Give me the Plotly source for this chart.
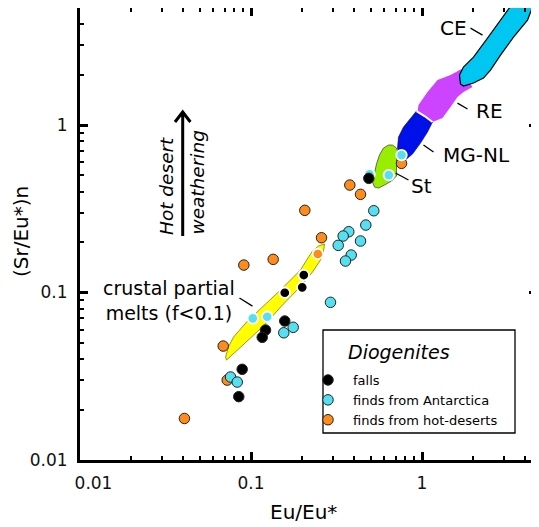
import plotly.graph_objects as go

# ---------------- data (Eu/Eu*, (Sr/Eu*)n) ----------------
falls_x = [0.2036, 0.1993, 0.1576, 0.1576, 0.1216, 0.1163, 0.0888, 0.0848, 0.4886]
falls_y = [0.1272, 0.1074, 0.0997, 0.0676, 0.0597, 0.0540, 0.0348, 0.0239, 0.4806]

antarctica_x = [0.1024, 0.1244, 0.2916, 0.1765, 0.1555, 0.0759, 0.0831, 0.5225, 0.4692,
                0.3731, 0.3460, 0.4369, 0.3236, 0.3855, 0.3569, 0.4932, 0.6395, 0.7590]
antarctica_y = [0.0701, 0.0717, 0.0874, 0.0620, 0.0575, 0.0313, 0.0292, 0.3079, 0.2529,
                0.2307, 0.2175, 0.2030, 0.1913, 0.1674, 0.1542, 0.5077, 0.5029, 0.6621]

hotdesert_x = [0.0908, 0.1348, 0.2459, 0.2584, 0.0688, 0.0726, 0.0408, 0.3783, 0.4369, 0.2064, 0.7590]
hotdesert_y = [0.1459, 0.1578, 0.1698, 0.2124, 0.0479, 0.0300, 0.0177, 0.4383, 0.3857, 0.3096, 0.5906]

# samples lying on a shaded field (drawn with a white rim)
falls_on_field = [0, 1, 2]
antarctica_on_field = [0, 1, 15, 16, 17]
hotdesert_on_field = [2]

# fields (polygon outlines)
crustal_x = [0.0710, 0.0738, 0.0790, 0.0954, 0.1488, 0.1948, 0.2169, 0.2289, 0.2481, 0.2691,
             0.2655, 0.2549, 0.2289, 0.1948, 0.1488, 0.1249, 0.0993, 0.0834, 0.0759, 0.0719]
crustal_y = [0.0412, 0.0473, 0.0542, 0.0676, 0.1035, 0.1363, 0.1629, 0.1769, 0.1895, 0.1948,
             0.1769, 0.1563, 0.1326, 0.1086, 0.0819, 0.0667, 0.0535, 0.0454, 0.0412, 0.0395]

st_x = [0.6368, 0.5954, 0.5641, 0.5418, 0.5275, 0.5134, 0.5275, 0.5565, 0.6034, 0.6631,
        0.7093, 0.7093, 0.7093, 0.7286, 0.7093, 0.6722]
st_y = [0.7597, 0.7290, 0.6622, 0.5851, 0.5171, 0.4568, 0.4264, 0.4205, 0.4383, 0.4630,
        0.4961, 0.5537, 0.6181, 0.6712, 0.7290, 0.7597]

mgnl_x = [0.7190, 0.7286, 0.7796, 0.8566, 0.9286, 1.0342, 1.1518, 1.0769, 0.9800, 0.8799, 0.8117, 0.7484]
mgnl_y = [0.7290, 0.8480, 0.9729, 1.1010, 1.2123, 1.1317, 1.0421, 0.9083, 0.7808, 0.6712, 0.6267, 0.6440]
mgnl_top_edge = [4, 5, 6]

re_x = [0.9412, 0.9540, 1.0769, 1.2320, 1.4678, 1.7022, 1.8206, 1.9738, 1.7483, 1.6126,
        1.4678, 1.3177, 1.1518, 1.0204]
re_y = [1.1958, 1.3162, 1.5740, 1.8565, 1.9885, 2.1600, 1.9080, 1.6861, 1.5740, 1.4696,
        1.2807, 1.1010, 1.0421, 1.1010]

ce_x = [1.6796, 1.6571, 1.7483, 2.0007, 2.4155, 2.8778, 3.2050, 4.2529, 5.4930, 4.4278,
        4.1400, 3.4284, 2.8778, 2.5155, 2.2887, 2.0007, 1.7483]
ce_y = [1.7573, 1.9885, 2.2193, 2.5468, 3.3071, 4.2352, 4.9939, 7.3389, 7.3389, 5.0637,
        4.2352, 3.3529, 2.6175, 2.1298, 1.9080, 1.7816, 1.7092]

# label leader lines (start, end)
leader_ce_x, leader_ce_y = [1.921, 2.259], [3.794, 3.446]
leader_re_x, leader_re_y = [1.6126, 1.845], [1.353, 1.246]
leader_mg_x, leader_mg_y = [1.0204, 1.1674], [0.7597, 0.6898]
leader_st_x, leader_st_y = [0.6998, 0.8338], [0.5171, 0.4695]
leader_cr_x, leader_cr_y = [0.0856, 0.1020], [0.0927, 0.0830]

x_tickvals = [0.01, 0.1, 1]
x_ticktext = ["\u00a0\u00a0\u00a0\u00a0\u00a00.01", "0.1", "1"]
y_tickvals = [0.01, 0.1, 1]
y_ticktext = ["0.01", "0.1", "1"]
minor_vals = [m * d for d in (0.01, 0.1, 1) for m in range(2, 10)]

FONT = "DejaVu Sans"

fig = go.Figure()


def field(xs, ys, fill, line_color, line_width):
    fig.add_trace(go.Scatter(
        x=xs + xs[:1], y=ys + ys[:1], mode="lines", fill="toself", fillcolor=fill,
        line=dict(color=line_color, width=line_width), showlegend=False, hoverinfo="skip"))


field(crustal_x, crustal_y, "#FFFF00", "#6b6b00", 0.7)
field(st_x, st_y, "#99EE00", "#333333", 0.7)
field(re_x, re_y, "#CC44FF", "rgba(0,0,0,0)", 0)
field(mgnl_x, mgnl_y, "#0010E8", "#000055", 0.6)
fig.add_trace(go.Scatter(x=[mgnl_x[i] for i in mgnl_top_edge], y=[mgnl_y[i] for i in mgnl_top_edge],
                         mode="lines", line=dict(color="white", width=2), showlegend=False,
                         hoverinfo="skip"))
field(ce_x, ce_y, "#00C6F2", "#000000", 1.2)

for lx, ly in [(leader_ce_x, leader_ce_y), (leader_re_x, leader_re_y), (leader_mg_x, leader_mg_y),
               (leader_st_x, leader_st_y), (leader_cr_x, leader_cr_y)]:
    fig.add_trace(go.Scatter(x=lx, y=ly, mode="lines", line=dict(color="black", width=1.3),
                             showlegend=False, hoverinfo="skip"))


def samples(xs, ys, on_field, color, name, rank):
    off = [i for i in range(len(xs)) if i not in on_field]
    fig.add_trace(go.Scatter(
        x=[xs[i] for i in off], y=[ys[i] for i in off], mode="markers", name=name,
        legendrank=rank, legendgroup=name,
        marker=dict(size=10.5, color=color, line=dict(color="#222222", width=1))))
    fig.add_trace(go.Scatter(
        x=[xs[i] for i in on_field], y=[ys[i] for i in on_field], mode="markers", name=name,
        legendgroup=name, showlegend=False,
        marker=dict(size=10.5, color=color, line=dict(color="white", width=1.8))))


samples(hotdesert_x, hotdesert_y, hotdesert_on_field, "#FF8C1A", "finds from hot-deserts", 3)
samples(antarctica_x, antarctica_y, antarctica_on_field, "#55E0F2", "finds from Antarctica", 2)
samples(falls_x, falls_y, falls_on_field, "#000000", "falls", 1)

# the page has an 8px body margin; layout below is expressed in page pixels
OFF = 8
W, H = 539 - OFF, 527 - OFF
PL, PR, PT, PB = 80, 537, 8, 460          # plot area in page pixels
L, R, T, B = PL - OFF, W - (PR - OFF), PT - OFF, H - (PB - OFF)
pw, ph = PR - PL, PB - PT


def px(xp):
    return (xp - PL) / pw


def py(yp):
    return (PB - yp) / ph


axis_common = dict(
    type="log", showgrid=False, zeroline=False, showline=True, linecolor="black", linewidth=3,
    mirror="ticks", ticks="inside", ticklen=8, tickwidth=2.5, tickcolor="black",
    tickfont=dict(family=FONT, size=17, color="#111111"),
    minor=dict(tickvals=minor_vals, ticks="inside", ticklen=4, tickwidth=2, tickcolor="black",
               showgrid=False),
)

fig.update_xaxes(**axis_common, range=[-2, 0.6725], tickvals=x_tickvals, ticktext=x_ticktext,
                 ticklabelstandoff=6)
fig.update_yaxes(**axis_common, range=[-2, 0.699], tickvals=y_tickvals, ticktext=y_ticktext,
                 ticklabelstandoff=6)

ann = []


def label(text, xp, yp, size=20, italic=False, angle=0, xanchor="center", yanchor="middle"):
    ann.append(dict(text=text, x=px(xp), y=py(yp), xref="paper", yref="paper", showarrow=False,
                    xanchor=xanchor, yanchor=yanchor, textangle=angle,
                    font=dict(family=FONT, size=size, color="black",
                              style="italic" if italic else "normal")))


label("CE", 453, 28)
label("RE", 489, 111)
label("MG-NL", 476, 155)
label("St", 421, 186)
label("crustal partial<br>melts (f<0.1)", 168.5, 300, size=19)
label("Hot desert", 167, 237, size=18.5, italic=True, angle=-90, yanchor="bottom")
label("weathering", 197, 237, size=18.5, italic=True, angle=-90, yanchor="bottom")
label("Eu/Eu*", 303.5, 512, size=20)
label("(Sr/Eu*)n", 21, 232, size=20, angle=-90)
label("Diogenites", 399, 352, size=19, italic=True)

shapes = [
    # legend frame
    dict(type="rect", xref="paper", yref="paper", x0=px(323), x1=px(515), y0=py(330), y1=py(433),
         line=dict(color="black", width=1.3), fillcolor="white", layer="above"),
    # weathering arrow
    dict(type="path", xref="paper", yref="paper",
         path=f"M {px(182.7)},{py(236)} L {px(182.7)},{py(112)} "
              f"M {px(175)},{py(122)} L {px(182.7)},{py(112)} L {px(190.4)},{py(122)}",
         line=dict(color="black", width=3)),
]

fig.update_layout(
    width=W, height=H, margin=dict(l=L, r=R, t=T, b=B, autoexpand=False),
    paper_bgcolor="white", plot_bgcolor="white",
    annotations=ann, shapes=shapes,
    legend=dict(x=px(303), y=py(365), xanchor="left", yanchor="top", bgcolor="rgba(0,0,0,0)",
                borderwidth=0, font=dict(family=FONT, size=13, color="black"),
                itemsizing="trace", itemwidth=40, tracegroupgap=0),
)

fig.write_html("out.html")
